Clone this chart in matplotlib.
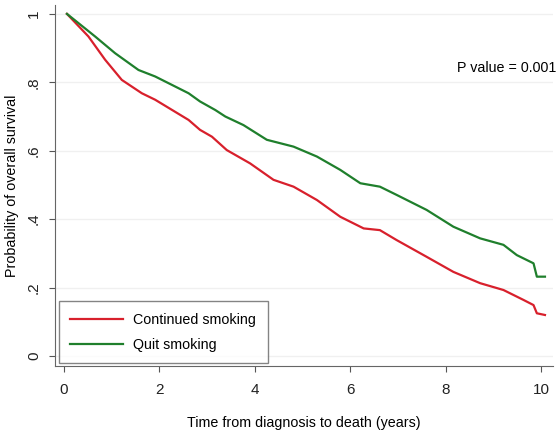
import matplotlib
matplotlib.use('Agg')
import matplotlib.pyplot as plt

plt.rcParams['font.family'] = ['Liberation Sans', 'DejaVu Sans']

# Kaplan-Meier curves (years, survival probability)
cont_t = [0.06, 0.51, 0.86, 1.21, 1.63, 1.91, 2.61, 2.85, 3.10, 3.41, 3.90,
          4.39, 4.81, 5.30, 5.79, 6.28, 6.62, 6.97, 7.60, 8.16, 8.72, 9.21,
          9.63, 9.84, 9.91, 10.08]
cont_s = [1.00, 0.934, 0.866, 0.807, 0.768, 0.749, 0.690, 0.661, 0.641, 0.602,
          0.563, 0.515, 0.495, 0.456, 0.407, 0.373, 0.368, 0.339, 0.290, 0.246,
          0.213, 0.193, 0.164, 0.149, 0.125, 0.120]

quit_t = [0.06, 0.65, 1.07, 1.56, 1.91, 2.61, 2.85, 3.17, 3.38, 3.76, 4.25,
          4.81, 5.30, 5.79, 6.21, 6.62, 6.97, 7.60, 8.16, 8.72, 9.21, 9.49,
          9.84, 9.91, 10.08]
quit_s = [1.00, 0.934, 0.885, 0.836, 0.817, 0.768, 0.744, 0.719, 0.700, 0.675,
          0.632, 0.612, 0.583, 0.544, 0.505, 0.495, 0.471, 0.427, 0.378, 0.344,
          0.325, 0.295, 0.271, 0.232, 0.232]

x_ticks = [0, 2, 4, 6, 8, 10]
y_ticks = [0, 0.2, 0.4, 0.6, 0.8, 1.0]
y_tick_labels = ['0', '.2', '.4', '.6', '.8', '1']

RED = '#d8202c'
GREEN = '#1f7f2c'
FS = 10.3

fig = plt.figure(figsize=(5.59, 4.36), dpi=100)
ax = fig.add_axes([0.0984, 0.1606, 0.891, 0.828])

for y in y_ticks:
    ax.axhline(y, color='#f0f0f0', lw=1.0, zorder=0)

ax.plot(cont_t, cont_s, color=RED, lw=1.6, label='Continued smoking')
ax.plot(quit_t, quit_s, color=GREEN, lw=1.6, label='Quit smoking')

ax.set_xlim(-0.19, 10.25)
ax.set_ylim(-0.029, 1.026)
ax.set_xticks(x_ticks)
ax.set_yticks(y_ticks)
ax.set_yticklabels(y_tick_labels, rotation=90, va='center')
ax.tick_params(axis='both', labelsize=11, length=4, color='#555555',
               labelcolor='#222222')
ax.tick_params(axis='x', pad=8)
ax.tick_params(axis='y', pad=6)

for side in ['top', 'right']:
    ax.spines[side].set_visible(False)
for side in ['left', 'bottom']:
    ax.spines[side].set_color('#666666')

ax.set_xlabel('Time from diagnosis to death (years)', fontsize=FS, labelpad=14)
ax.set_ylabel('Probability of overall survival', fontsize=FS, labelpad=6)

ax.text(10.32, 0.842, 'P value = 0.001', fontsize=FS, ha='right', va='center',
        clip_on=False)

leg = ax.legend(loc='lower left', bbox_to_anchor=(0.008, 0.008), fontsize=FS,
                frameon=True, fancybox=False, edgecolor='#666666',
                handlelength=3.7, handletextpad=0.7, borderpad=0.8,
                labelspacing=0.75, borderaxespad=0)
leg.get_frame().set_linewidth(1.0)

fig.savefig('out.png', dpi=100)
